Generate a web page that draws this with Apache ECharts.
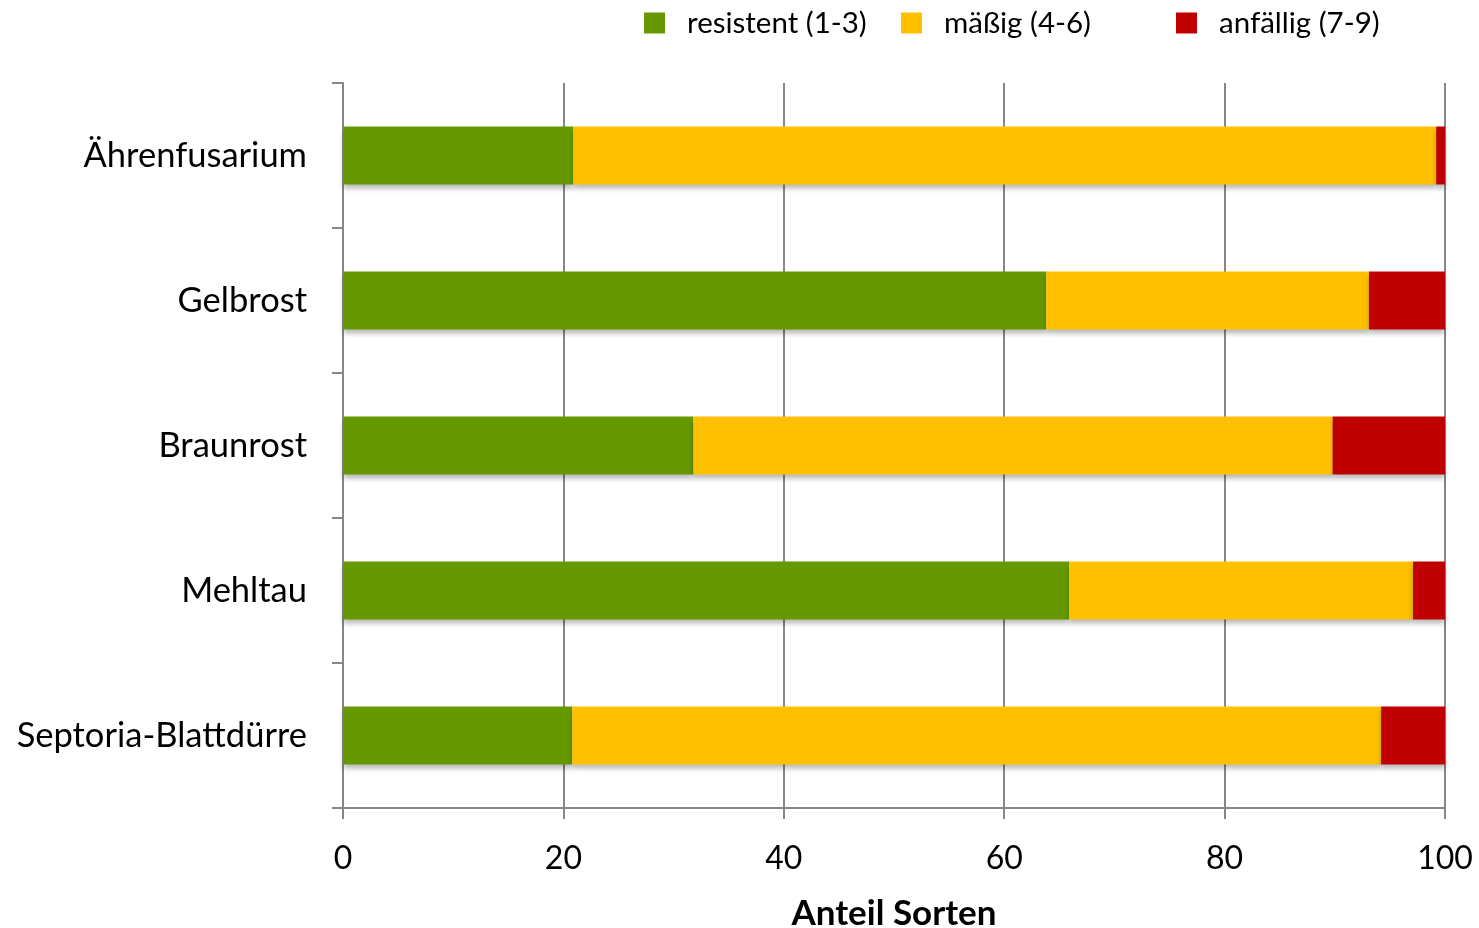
<!DOCTYPE html>
<html>
<head>
<meta charset="utf-8">
<script src="https://cdn.jsdelivr.net/npm/echarts@6/dist/echarts.min.js"></script>
<style>
  html, body { margin: 0; padding: 0; background: #fff; }
  #chart { width: 1479px; height: 928px; }
</style>
</head>
<body>
<div id="chart"></div>
<script>
// Disease resistance ratings of varieties (share of varieties, %)
const categories = ['Ährenfusarium', 'Gelbrost', 'Braunrost', 'Mehltau', 'Septoria-Blattdürre'];
const resistent = [20.9, 63.8, 31.8, 65.9, 20.8];
const maessig = [78.3, 29.3, 58.0, 31.2, 73.4];
const anfaellig = [0.8, 6.9, 10.2, 2.9, 5.8];
const seriesNames = ['resistent (1-3)', 'mäßig (4-6)', 'anfällig (7-9)'];
const colors = ['#669900', '#FFC000', '#C00000'];
const xTicks = [0, 20, 40, 60, 80, 100];

const FONT = 'Lato, "Open Sans", sans-serif';
const axisGrey = '#878787';

const chart = echarts.init(document.getElementById('chart'), null, { renderer: 'canvas' });

const barShadow = {
  shadowBlur: 5,
  shadowOffsetY: 4,
  shadowOffsetX: 0,
  shadowColor: 'rgba(0,0,0,0.28)'
};

function legendAt(left, name) {
  return {
    data: [name],
    left: left,
    top: 8,
    icon: 'rect',
    itemWidth: 21,
    itemHeight: 21,
    padding: 0,
    selectedMode: false,
    textStyle: {
      fontFamily: FONT,
      fontSize: 29.5,
      color: '#000',
      padding: [0, 0, 0, 17]
    }
  };
}

chart.setOption({
  animation: false,
  backgroundColor: '#fff',
  color: colors,
  legend: [
    legendAt(644, seriesNames[0]),
    legendAt(901, seriesNames[1]),
    legendAt(1176, seriesNames[2])
  ],
  grid: { left: 343, right: 34, top: 83, bottom: 120, containLabel: false, outerBoundsMode: 'none' },
  xAxis: {
    type: 'value',
    min: 0,
    max: 100,
    interval: 20,
    name: 'Anteil Sorten',
    nameLocation: 'middle',
    nameGap: 88,
    nameTextStyle: { fontFamily: FONT, fontSize: 35, fontWeight: 'bold', color: '#000' },
    axisLine: { show: true, lineStyle: { color: axisGrey, width: 2 } },
    axisTick: { show: true, length: 11, lineStyle: { color: axisGrey, width: 2 } },
    axisLabel: {
      margin: 35,
      fontFamily: FONT,
      fontSize: 32,
      color: '#000',
      formatter: v => xTicks.includes(v) ? String(v) : ''
    },
    splitLine: { show: true, lineStyle: { color: axisGrey, width: 2 } }
  },
  yAxis: {
    type: 'category',
    data: categories,
    inverse: true,
    boundaryGap: true,
    axisLine: { show: true, lineStyle: { color: axisGrey, width: 2 } },
    axisTick: { show: true, length: 11, interval: 0, alignWithLabel: false, lineStyle: { color: axisGrey, width: 2 } },
    axisLabel: { margin: 36, fontFamily: FONT, fontSize: 34.5, color: '#000' },
    splitLine: { show: false }
  },
  series: [
    { name: seriesNames[0], type: 'bar', stack: 'total', barWidth: 58, data: resistent, itemStyle: Object.assign({ color: colors[0] }, barShadow) },
    { name: seriesNames[1], type: 'bar', stack: 'total', barWidth: 58, data: maessig, itemStyle: Object.assign({ color: colors[1] }, barShadow) },
    { name: seriesNames[2], type: 'bar', stack: 'total', barWidth: 58, data: anfaellig, itemStyle: Object.assign({ color: colors[2] }, barShadow) }
  ]
});
</script>
</body>
</html>
